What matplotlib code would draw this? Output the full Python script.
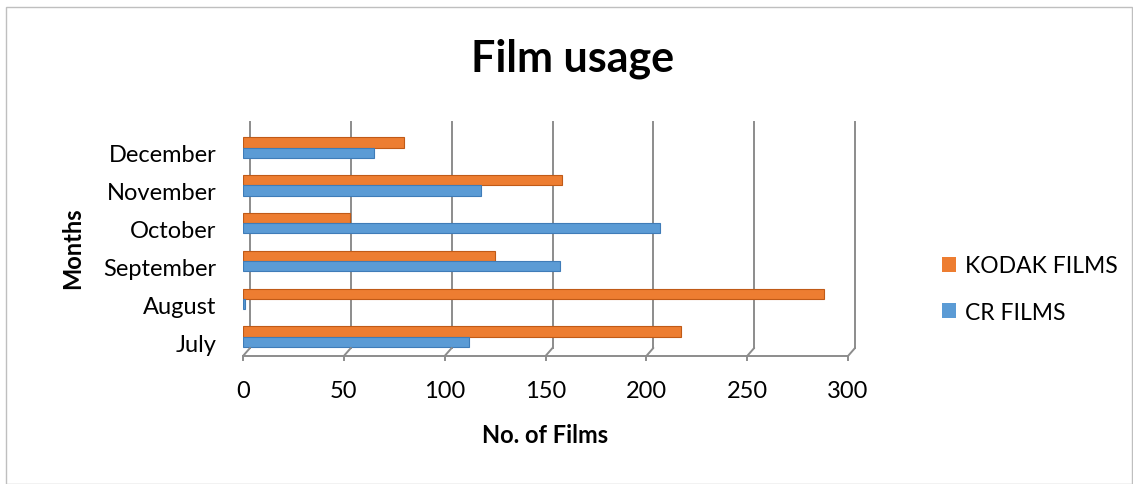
import matplotlib.pyplot as plt
import matplotlib.transforms as mtransforms
from matplotlib.patches import Patch, Rectangle
import numpy as np

months = ['July', 'August', 'September', 'October', 'November', 'December']
kodak_films = [217, 288, 125, 53, 158, 80]
cr_films = [112, 1, 157, 207, 118, 65]
x_ticks = [0, 50, 100, 150, 200, 250, 300]

orange = '#ED7D31'
blue = '#5B9BD5'
font = 'Lato'
plt.rcParams['font.family'] = [font, 'DejaVu Sans']

fig = plt.figure(figsize=(11.33, 4.85), dpi=100)
ax = fig.add_axes([0.2145, 0.264, 0.534, 0.468])

# outer frame of the chart area
fig.patches.append(Rectangle((0.005, 0.0), 0.994, 0.983, transform=fig.transFigure,
                             fill=False, edgecolor='#BFBFBF', lw=1))

idx = np.arange(len(months))
h = 0.27
ax.barh(idx + h / 2 + 0.01, kodak_films, h, color=orange, edgecolor='#C05A17', lw=0.8, zorder=3)
ax.barh(idx - h / 2 + 0.01, cr_films, h, color=blue, edgecolor='#3F7CB8', lw=0.8, zorder=3)

ax.set_xlim(0, 300)
ax.set_ylim(-0.5, 5.5)

# pseudo-3D back wall gridlines
back = mtransforms.offset_copy(ax.transData, fig=fig, x=7, y=0, units='dots')
for v in x_ticks:
    ax.plot([v, v], [-0.3, 5.68], color='#8C8C8C', lw=1.4, transform=back,
            zorder=1, clip_on=False)
    ax.annotate('', xy=(v, -0.5), xycoords='data', xytext=(7, 8), textcoords='offset pixels',
                arrowprops=dict(arrowstyle='-', color='#8C8C8C', lw=1.4,
                                shrinkA=0, shrinkB=0), annotation_clip=False)
ax.plot([0, 300], [-0.5, -0.5], color='#8C8C8C', lw=1.4, clip_on=False, zorder=2)
for v in x_ticks:
    ax.plot([v, v], [-0.5, -0.62], color='#8C8C8C', lw=1.4, clip_on=False, zorder=2)

for s in ax.spines.values():
    s.set_visible(False)

ax.set_xticks(x_ticks)
ax.set_xticklabels([str(v) for v in x_ticks], fontsize=17)
ax.set_yticks(idx)
ax.set_yticklabels(months, fontsize=17)
ax.tick_params(axis='x', length=0, pad=17)
ax.tick_params(axis='y', length=0, pad=19)
shift = mtransforms.ScaledTranslation(0, -5 / 100, fig.dpi_scale_trans)
for lab in ax.get_yticklabels():
    lab.set_transform(lab.get_transform() + shift)

ax.set_xlabel('No. of Films', fontsize=17, fontweight='bold', labelpad=16)
ax.set_ylabel('Months', fontsize=17, fontweight='bold')
ax.yaxis.set_label_coords(-0.262, 0.48)
fig.text(0.505, 0.878, 'Film usage', ha='center', va='center', fontsize=31, fontweight='bold')

handles = [Patch(facecolor=orange), Patch(facecolor=blue)]
fig.legend(handles, ['KODAK FILMS', 'CR FILMS'], loc='center left',
           bbox_to_anchor=(0.813, 0.402), frameon=False, fontsize=16.5,
           handlelength=0.6, handleheight=0.6, handletextpad=0.4, labelspacing=1.1)

fig.savefig('out.png', dpi=100)
